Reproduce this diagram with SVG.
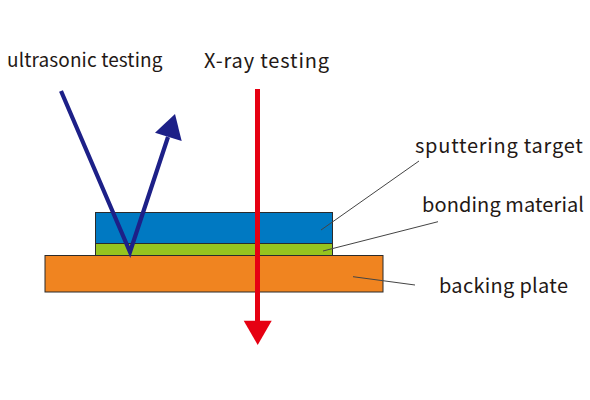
<svg xmlns="http://www.w3.org/2000/svg" width="590" height="400" viewBox="0 0 590 400">
<style>
text{font-family:"Noto Sans CJK JP","Noto Sans",sans-serif;font-size:20px;fill:#231815}
.layer{stroke:#2b2b2b;stroke-width:1}
.leader{stroke:#444;stroke-width:1;fill:none}
</style>
<rect width="590" height="400" fill="#fff"/>
<g id="backing-plate"><rect class="layer" x="45" y="255.5" width="338" height="36.5" fill="#f08420"/><text x="439" y="293" letter-spacing="0.3">backing plate</text></g>
<g id="sputtering-target"><rect class="layer" x="95.500" y="212.500" width="237" height="31" fill="#0079c2"/><text x="415" y="153" letter-spacing="0.75">sputtering target</text></g>
<g id="bonding-material"><rect class="layer" x="95.500" y="243.500" width="237" height="12" fill="#95c41f"/><text x="422" y="212" letter-spacing="0.1">bonding material</text></g>
<g id="ultrasonic-testing"><text x="7" y="67" style="font-size:19px" letter-spacing="0.12">ultrasonic testing</text></g>
<g id="x-ray-testing"><text x="204" y="68" letter-spacing="0.85">X-ray testing</text></g>
<g id="connectors">
<path class="leader" d="M419 161L321 230M438 221.700L323 251M353 276.700L415 285"/>
<path d="M61 91L130 252L168 137" fill="none" stroke="#1d2088" stroke-width="4.200"/>
<polygon points="175,114 155,132.700 181.700,141" fill="#1d2088"/>
<path d="M257.500 89V322" fill="none" stroke="#e60012" stroke-width="5"/>
<polygon points="243.700,320.700 271.700,320.700 257.700,345" fill="#e60012"/>
</g>
</svg>
